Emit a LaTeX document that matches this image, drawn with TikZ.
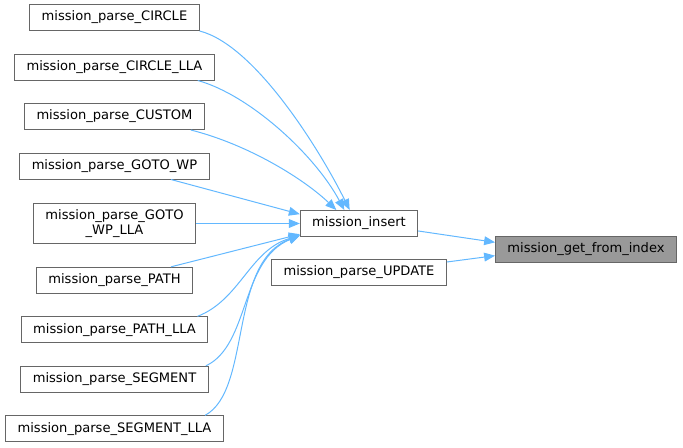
\documentclass[tikz,border=0pt]{standalone}
\usepackage{fontspec}
\setmainfont{DejaVu Sans}
\usetikzlibrary{arrows.meta}
\definecolor{edgeblue}{HTML}{63B8FF}
\definecolor{boxgray}{HTML}{666666}
\definecolor{rootfill}{HTML}{999999}
\begin{document}
\begin{tikzpicture}[
  x=0.75pt, y=-0.75pt,
  node distance=37.125pt,
  every node/.style={
    draw=boxgray,
    line width=0.75pt,
    fill=white,
    align=center,
    font=\fontsize{9.8}{11.3}\selectfont,
    inner xsep=8.9pt,
    inner ysep=4.3pt,
    minimum height=19.5pt
  },
  root/.style={fill=rootfill},
  arrow/.style={-{Triangle[length=8.2pt,width=6.6pt]}, edgeblue, line width=0.75pt}
]
\useasboundingbox (0,0) rectangle (683,447);

\node (circ) at (114.5,17.5) {mission\_parse\_CIRCLE};
\node (circlla) [below of=circ] {mission\_parse\_CIRCLE\_LLA};
\node (custom) [below of=circlla] {mission\_parse\_CUSTOM};
\node (gotowp) [below of=custom] {mission\_parse\_GOTO\_WP};
\node (gotowplla) [below of=gotowp, yshift=-6pt] {mission\_parse\_GOTO\\\_WP\_LLA};
\node (parsepath) [below of=gotowplla, yshift=-5.5pt] {mission\_parse\_PATH};
\node (parsepathlla) [below of=parsepath] {mission\_parse\_PATH\_LLA};
\node (segment) [below of=parsepathlla] {mission\_parse\_SEGMENT};
\node (segmentlla) [below of=segment] {mission\_parse\_SEGMENT\_LLA};

\node (insert) at (359,223.5) {mission\_insert};
\node (update) at (359,272) {mission\_parse\_UPDATE};
\node (getindex) [root] at (586,249) {mission\_get\_from\_index};

\draw[arrow] (circ.south east) .. controls (255,45) and (320,150) .. ([xshift=-7pt]insert.north);
\draw[arrow] ([xshift=-12.75pt]circlla.south east) .. controls (250,95) and (315,155) .. ([xshift=-11pt]insert.north);
\draw[arrow] ([xshift=-10.5pt]custom.south east) .. controls (250,145) and (305,180) .. ([xshift=-17pt]insert.north);
\draw[arrow] ([xshift=-29pt]gotowp.south east) -- ([yshift=7pt]insert.west);
\draw[arrow] (gotowplla) -- (insert);
\draw[arrow] ([xshift=-16.5pt]parsepath.north east) -- ([yshift=-8pt]insert.west);
\draw[arrow] ([xshift=-8pt]parsepathlla.north east) .. controls (240,300) and (250,250) .. ([yshift=-9pt]insert.west);
\draw[arrow] ([xshift=-2pt]segment.north east) .. controls (250,345) and (240,260) .. ([yshift=-9pt]insert.west);
\draw[arrow] ([xshift=-14pt]segmentlla.north east) .. controls (252,390) and (228,262) .. ([yshift=-9pt]insert.west);

\draw[arrow] ([yshift=-5.6pt]insert.east) -- ([yshift=5pt]getindex.west);
\draw[arrow] ([yshift=7.5pt]update.east) -- ([yshift=-5pt]getindex.west);
\end{tikzpicture}
\end{document}
